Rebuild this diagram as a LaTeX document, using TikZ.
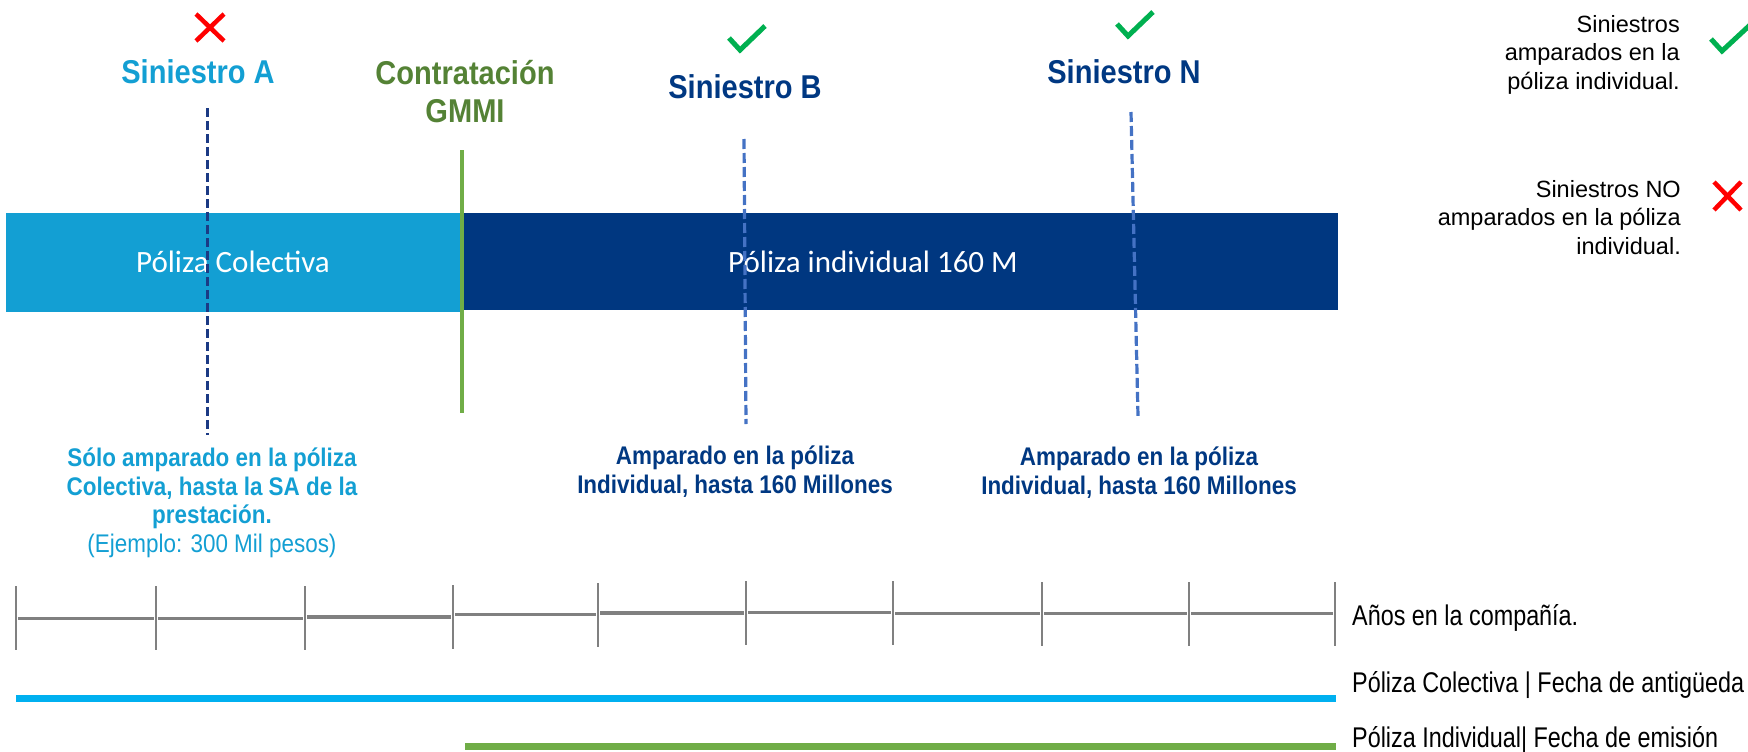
\documentclass[tikz,border=0pt]{standalone}
\usepackage{fontspec}
\setmainfont{Liberation Sans}
\newfontfamily\nfont{Liberation Sans}[FakeStretch=0.88]
\newfontfamily\lfont{Liberation Sans}[FakeStretch=0.82]
\newfontfamily\cfont{Carlito}
\definecolor{cLight}{HTML}{139FD3}
\definecolor{cNavy}{HTML}{003882}
\definecolor{cBox}{HTML}{003780}
\definecolor{cDashA}{HTML}{1B3A84}
\definecolor{cDashB}{HTML}{4472C4}
\definecolor{cGreenT}{HTML}{548235}
\definecolor{cGreenL}{HTML}{70AD47}
\definecolor{cCheck}{HTML}{00B050}
\definecolor{cRed}{HTML}{FF0000}
\definecolor{cGray}{HTML}{808080}
\definecolor{cBar}{HTML}{00B0F0}
\begin{document}
\begin{tikzpicture}[x=1pt,y=-1pt,
  title/.style={font=\nfont\bfseries\fontsize{33}{38}\selectfont, inner sep=0, align=center, anchor=base},
  note/.style={font=\nfont\bfseries\fontsize{25.5}{28.4}\selectfont, inner sep=0, align=center, anchor=base},
  legtext/.style={font=\fontsize{23.5}{28.5}\selectfont, inner sep=0, align=right, anchor=base east, text=black},
  axlabel/.style={font=\lfont\fontsize{28.5}{30}\selectfont, inner sep=0, anchor=base west, text=black},
  boxtext/.style={font=\cfont\fontsize{31}{36}\selectfont, text=white, inner sep=0},
  redx/.style={draw=cRed, line width=4.5},
  checkmark/.style={draw=cCheck, line width=5, line join=miter},
  tickline/.style={draw=cGray, line width=2.6},
  axisline/.style={draw=cGray, line width=3.2},
  dashA/.style={draw=cDashA, line width=3.5, dash pattern=on 9pt off 4pt},
  dashB/.style={draw=cDashB, line width=3.2, dash pattern=on 10pt off 4pt},
]
\useasboundingbox (0,0) rectangle (1748,752);

% policy bars
\node[fill=cBox, minimum width=927, minimum height=97, inner sep=0, anchor=north west] (boxI) at (411,213) {};
\node[fill=cLight, minimum width=455, minimum height=99, inner sep=0, anchor=north west] (boxC) at (6,213) {};
\node[boxtext] (lblC) at (233,262) {Póliza Colectiva};
\node[boxtext] (lblI) at (873,262) {Póliza individual 160 M};

% titles
\node[title, text=cLight] (tA) at (198,84) {Siniestro A};
\node[title, text=cGreenT] (tC) at (465,122) {Contratación\\GMMI};
\node[title, text=cNavy] (tB) at (745,98) {Siniestro B};
\node[title, text=cNavy] (tN) at (1124,84) {Siniestro N};

% marks
\draw[redx] (196,14) -- (224,41) (224,14) -- (196,41);
\draw[checkmark] (729,38) -- (740,50) -- (765,26);
\draw[checkmark] (1117,24) -- (1128,36) -- (1153,12);

% vertical markers
\coordinate (a1) at (207.5,108);
\coordinate (a2) at (207.5,435);
\coordinate (b1) at (744,139);
\coordinate (b2) at (746,424);
\coordinate (n1) at (1131,112);
\coordinate (n2) at (1138,416);
\coordinate (g1) at (462,150);
\coordinate (g2) at (462,413);
\draw[dashA] (a1) -- (a2);
\draw[dashB] (b1) -- (b2);
\draw[dashB] (n1) -- (n2);
\draw[draw=cGreenL, line width=3.5] (g1) -- (g2);

% notes
\node[note, text=cLight] (nA) at (212,552) {Sólo amparado en la póliza\\Colectiva, hasta la SA de la\\prestación.\\{\mdseries (Ejemplo: 300 Mil pesos)}};
\node[note, text=cNavy] (nB) at (735,493) {Amparado en la póliza\\Individual, hasta 160 Millones};
\node[note, text=cNavy] (nN) at (1139,494) {Amparado en la póliza\\Individual, hasta 160 Millones};

% legend
\node[legtext] (leg1) at (1680,89) {Siniestros\\amparados en la\\póliza individual.};
\node[legtext] (leg2) at (1681,254) {Siniestros NO\\amparados en la póliza\\individual.};
\draw[checkmark] (1711,39) -- (1722,51) -- (1750,25);
\draw[redx] (1714,182) -- (1741,210) (1741,182) -- (1714,210);

% axis
\foreach \x/\y [count=\i] in {16/618,156/618,305/618,453/617,598/615,746/613,893/613,1042/614,1189/614,1335/614}{
  \coordinate (t\i) at (\x,\y);
  \draw[tickline] (\x,\y-32) -- (\x,\y+32);
}
\foreach \a/\b/\y in {1/2/618.3,2/3/618.3,3/4/617,4/5/614.3,5/6/613,6/7/612.7,7/8/613.3,8/9/613.3,9/10/613.3}{
  \draw[axisline] ([xshift=2pt]t\a |- 0,\y) -- ([xshift=-2pt]t\b |- 0,\y);
}
\node[axlabel] (ax1) at (1352,625) {Años en la compañía.};

% bars
\coordinate (c1) at (16,698);
\coordinate (c2) at (1336,698);
\coordinate (i1) at (465,746);
\coordinate (i2) at (1336,746);
\draw[draw=cBar, line width=7] (c1) -- (c2);
\draw[draw=cGreenL, line width=7] (i1) -- (i2);
\node[axlabel] (ax2) at (1352,692) {Póliza Colectiva | Fecha de antigüeda};
\node[axlabel] (ax3) at (1352,747) {Póliza Individual| Fecha de emisión};
\end{tikzpicture}
\end{document}
